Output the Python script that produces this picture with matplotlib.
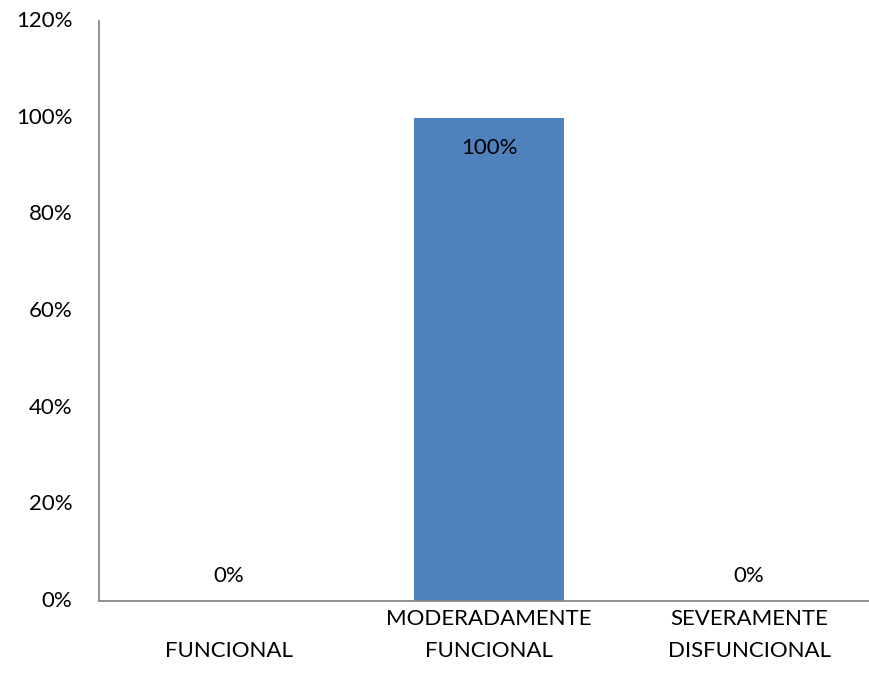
import matplotlib.pyplot as plt

categories = ["\nFUNCIONAL", "MODERADAMENTE\nFUNCIONAL", "SEVERAMENTE\nDISFUNCIONAL"]
values = [0, 100, 0]
labels = ["0%", "100%", "0%"]
yticks = [0, 20, 40, 60, 80, 100, 120]

plt.rcParams['font.family'] = ['Lato', 'DejaVu Sans']

fig = plt.figure(figsize=(8.7, 6.93), dpi=100)
ax = fig.add_axes([99 / 870, 92 / 693, 780 / 870, 580 / 693])

x = range(len(categories))
ax.bar(x, values, width=0.58, color="#4F81BD")

for i, (v, lab) in enumerate(zip(values, labels)):
    off = -22 if v > 0 else 18
    ax.annotate(lab, (i, v), xytext=(0, off), textcoords="offset points",
                ha="center", va="center", fontsize=16, color="black")

ax.set_xlim(-0.5, 2.5)
ax.set_ylim(0, 120)
ax.set_yticks(yticks)
ax.set_yticklabels([f"{t}%" for t in yticks], fontsize=16, va="center")
ax.set_xticks(list(x))
ax.set_xticklabels(categories, fontsize=16, linespacing=1.75)
ax.tick_params(axis="both", length=0)
ax.tick_params(axis="y", pad=19)
ax.tick_params(axis="x", pad=6)

for s in ["top", "right"]:
    ax.spines[s].set_visible(False)
for s in ["left", "bottom"]:
    ax.spines[s].set_color("#888888")
    ax.spines[s].set_linewidth(1.3)

fig.savefig("out.png", dpi=100)
